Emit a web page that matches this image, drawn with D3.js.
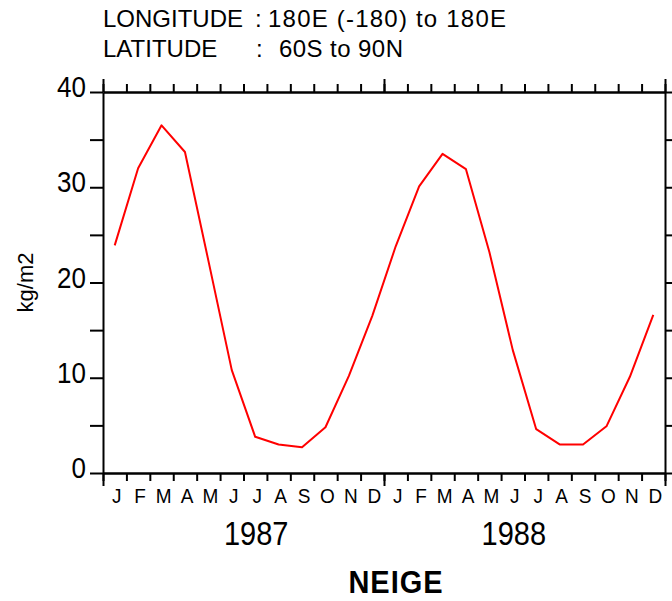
<!DOCTYPE html>
<html>
<head>
<meta charset="utf-8">
<script src="https://cdn.jsdelivr.net/npm/d3@7/dist/d3.min.js"></script>
<style>
  html, body { margin: 0; padding: 0; background: #fff; }
  svg { display: block; }
  text { font-family: "Liberation Sans", Arial, sans-serif; fill: #000; }
</style>
</head>
<body>
<svg id="chart" width="672" height="601"></svg>
<script>
// Monthly snow mass (kg/m2), zonal band 60S-90N, all longitudes
const monthLabels = ["J","F","M","A","M","J","J","A","S","O","N","D"];
const years = ["1987", "1988"];
const snow1987 = [23.9, 32.0, 36.5, 33.7, 22.3, 10.8, 3.8, 3.0, 2.7, 4.8, 10.2, 16.5];
const snow1988 = [23.8, 30.1, 33.5, 31.9, 23.2, 12.9, 4.6, 3.0, 3.0, 4.9, 10.1, 16.6];
const yTickValues = [0, 10, 20, 30, 40];
const yMinorValues = [5, 15, 25, 35];
const yearLabelMonth = [6, 17];   // month slot under which each year label sits

const series = snow1987.concat(snow1988);
const nMonths = series.length;

const svg = d3.select("#chart");
const plotLeft = 103, plotRight = 665, plotTop = 92, plotBottom = 473;

const x = d3.scaleLinear().domain([0, nMonths]).range([plotLeft, plotRight]);
const y = d3.scaleLinear().domain([0, 40]).range([plotBottom, plotTop]);

const axisStroke = g => {
  g.selectAll("path, line").attr("stroke", "#000").attr("stroke-width", 2);
  g.selectAll("text").remove();
};

// Y axes: ticks every 5 units
const yAll = yTickValues.concat(yMinorValues).sort(d3.ascending);
svg.append("g").attr("transform", `translate(${plotLeft},0)`)
  .call(d3.axisLeft(y).tickValues(yAll).tickSize(13).tickSizeOuter(0))
  .call(axisStroke);
svg.append("g").attr("transform", `translate(${plotRight},0)`)
  .call(d3.axisRight(y).tickValues(yAll).tickSize(13).tickSizeOuter(0))
  .call(axisStroke);

// X axes: month boundaries, year boundaries drawn longer
const monthTicks = d3.range(0, nMonths + 1);
const yearTicks = monthTicks.filter(m => m % 12 === 0);
svg.append("g").attr("transform", `translate(0,${plotBottom})`)
  .call(d3.axisBottom(x).tickValues(monthTicks).tickSize(8).tickSizeOuter(0))
  .call(axisStroke);
svg.append("g").attr("transform", `translate(0,${plotTop})`)
  .call(d3.axisTop(x).tickValues(monthTicks).tickSize(8).tickSizeOuter(0))
  .call(axisStroke);
svg.append("g").attr("transform", `translate(0,${plotBottom})`)
  .call(d3.axisBottom(x).tickValues(yearTicks).tickSize(13).tickSizeOuter(0))
  .call(axisStroke);
svg.append("g").attr("transform", `translate(0,${plotTop})`)
  .call(d3.axisTop(x).tickValues(yearTicks).tickSize(13).tickSizeOuter(0))
  .call(axisStroke);

// Y tick labels
svg.append("g").selectAll("text").data(yTickValues).join("text")
  .attr("transform", d => `translate(86,${y(d) + 5}) scale(1,1.12)`)
  .attr("text-anchor", "end")
  .style("font-size", "26px")
  .text(d => d);

// Month letters
svg.append("g").selectAll("text").data(d3.range(nMonths)).join("text")
  .attr("transform", i => `translate(${x(i + 0.5) + 2},503) scale(1,1.1)`)
  .attr("text-anchor", "middle")
  .style("font-size", "19px")
  .text(i => monthLabels[i % 12]);

// Year labels
svg.append("g").selectAll("text").data(years).join("text")
  .attr("transform", (d, i) => `translate(${x(yearLabelMonth[i] + 0.5) + 1},545) scale(1,1.15)`)
  .attr("text-anchor", "middle")
  .style("font-size", "29px")
  .text(d => d);

// Axis title
svg.append("text")
  .attr("transform", `translate(33,${(plotTop + plotBottom) / 2}) rotate(-90)`)
  .attr("text-anchor", "middle")
  .style("font-size", "22px")
  .text("kg/m2");

svg.append("text")
  .attr("transform", "translate(396,593) scale(1,1.1)")
  .attr("text-anchor", "middle")
  .style("font-size", "29px")
  .style("font-weight", "bold")
  .style("letter-spacing", "1px")
  .text("NEIGE");

// Header: domain description
const header = svg.append("g").style("font-size", "24px");
header.append("text").attr("x", 103).attr("y", 27).text("LONGITUDE");
header.append("text").attr("x", 255).attr("y", 27).text(":");
header.append("text").attr("x", 268).attr("y", 27)
  .attr("textLength", 238).attr("lengthAdjust", "spacing")
  .text("180E (-180) to 180E");
header.append("text").attr("x", 103).attr("y", 57).text("LATITUDE");
header.append("text").attr("x", 256).attr("y", 57).text(":");
header.append("text").attr("x", 279).attr("y", 57)
  .attr("textLength", 124).attr("lengthAdjust", "spacing")
  .text("60S to 90N");

// Snow line
const line = d3.line()
  .x((d, i) => x(i + 0.5))
  .y(d => y(d));
svg.append("path")
  .datum(series)
  .attr("d", line)
  .attr("fill", "none")
  .attr("stroke", "#ff0000")
  .attr("stroke-width", 2)
  .attr("stroke-linejoin", "round");
</script>
</body>
</html>
